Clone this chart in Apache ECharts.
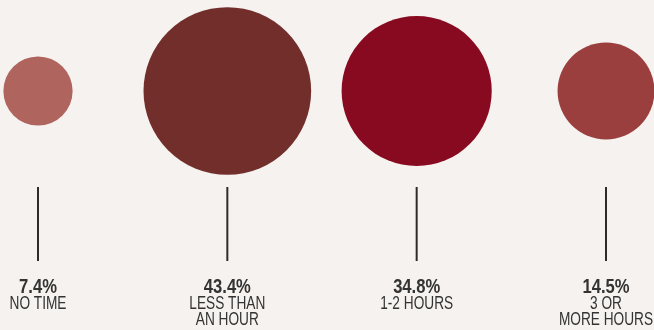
<!DOCTYPE html>
<html>
<head>
<meta charset="utf-8">
<script src="https://cdn.jsdelivr.net/npm/echarts@6/dist/echarts.min.js"></script>
<style>
html,body{margin:0;padding:0;background:#F5F2EF;}
#chart{width:654px;height:330px;}
</style>
</head>
<body>
<div id="chart"></div>
<script>
// Data
const categories = ['NO TIME', 'LESS THAN\nAN HOUR', '1-2 HOURS', '3 OR\nMORE HOURS'];
const shares = [7.4, 43.4, 34.8, 14.5];
const percentLabels = ['7.4%', '43.4%', '34.8%', '14.5%'];

// Styles
const circleColors = ['#B0645E', '#722E2B', '#880A20', '#9A3E3E'];
const FONT = "'Liberation Sans', Arial, sans-serif";
const DIAM_SCALE = 25.45; // diameter per sqrt(percent)

const chart = echarts.init(document.getElementById('chart'), null, {renderer: 'canvas'});

chart.setOption({
  backgroundColor: '#F5F2EF',
  animation: false,
  grid: {left: 38, right: 48, top: 0, height: 182},
  xAxis: {type: 'category', data: categories, boundaryGap: false, show: false},
  yAxis: {type: 'value', min: -1, max: 1, show: false},
  series: [
    {
      type: 'scatter',
      data: shares.map((v, i) => ({value: [i, 0, v], itemStyle: {color: circleColors[i], opacity: 1}})),
      symbol: 'circle',
      symbolSize: val => DIAM_SCALE * Math.sqrt(val[2]),
      silent: true
    },
    {
      type: 'custom',
      data: shares.map((v, i) => [i, 0]),
      silent: true,
      clip: false,
      renderItem: (params, api) => {
        const i = params.dataIndex;
        const x = api.coord([api.value(0), 0])[0];
        return {
          type: 'group',
          children: [
            {
              type: 'line',
              shape: {x1: x, y1: 187, x2: x, y2: 261},
              style: {stroke: '#2E2B2B', lineWidth: 2}
            },
            {
              type: 'text',
              x: x, y: 277,
              scaleX: 0.83,
              style: {
                x: 0, y: 0,
                text: percentLabels[i],
                fill: '#333333',
                font: 'bold 20px ' + FONT,
                align: 'center',
                verticalAlign: 'top'
              }
            },
            {
              type: 'text',
              x: x, y: 296,
              scaleX: 0.76,
              style: {
                x: 0, y: 0,
                text: categories[i],
                fill: '#333333',
                font: '18px ' + FONT,
                lineHeight: 16,
                align: 'center',
                verticalAlign: 'top'
              }
            }
          ]
        };
      }
    }
  ]
});
</script>
</body>
</html>
